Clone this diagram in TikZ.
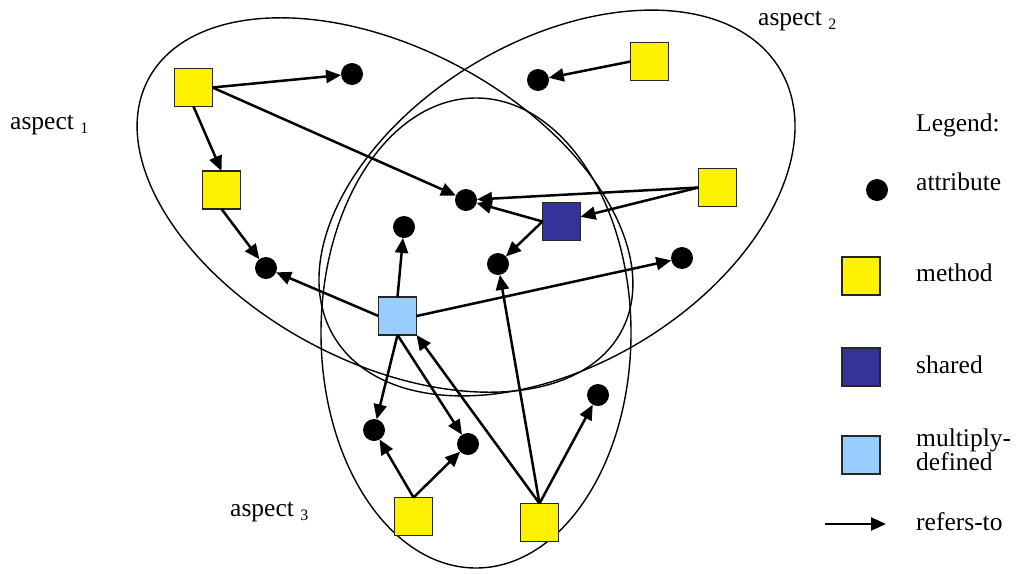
\documentclass[tikz,border=0pt]{standalone}
\usepackage{fontspec}
\setmainfont{Liberation Serif}
\usetikzlibrary{arrows.meta}
\definecolor{sharedc}{RGB}{51,51,153}
\definecolor{multic}{RGB}{153,204,255}
\begin{document}
\begin{tikzpicture}[x=1pt,y=-1pt,
  sq/.style={draw=black!85, line width=1.4pt, minimum size=38pt, inner sep=0pt, outer sep=0pt},
  meth/.style={sq, fill=yellow},
  shar/.style={sq, fill=sharedc},
  mult/.style={sq, fill=multic},
  attr/.style={circle, fill=black, minimum size=22pt, inner sep=0pt, outer sep=0pt},
  ref/.style={line width=2.5pt, -{Triangle[length=15pt,width=13pt]}},
  asp/.style={line width=1.4pt},
  lbl/.style={font=\fontsize{25.5}{29}\selectfont, inner sep=0pt, anchor=base west}
]
\newcommand{\sbs}[1]{{\fontsize{16}{16}\selectfont\raisebox{-4pt}{#1}}}
\useasboundingbox (0,0) rectangle (1017,573);
% aspects
\draw[asp, rotate around={-28:(385,205)}] (385,205) ellipse [x radius=268, y radius=157];
\draw[asp, rotate around={31:(557,203)}] (557,203) ellipse [x radius=260, y radius=162];
\draw[asp] (476,333) ellipse [x radius=155, y radius=235];
% labels
\node[lbl] (t1) at (10,129) {aspect \sbs{1}};
\node[lbl] (t2) at (758,25) {aspect \sbs{2}};
\node[lbl] (t3) at (230,516) {aspect \sbs{3}};
% nodes
\node[meth] (m1) at (193.5,87.5) {};
\node[attr] (a1) at (352,74) {};
\node[meth] (m2) at (221.5,190) {};
\node[attr] (a2) at (266,268) {};
\node[attr] (a3) at (466,200) {};
\node[shar] (s) at (561.5,221.5) {};
\node[meth] (m3) at (717.5,187.5) {};
\node[meth] (m4) at (649.5,61.5) {};
\node[attr] (a4) at (538,80) {};
\node[attr] (a5) at (404,227) {};
\node[mult] (L) at (397.5,316) {};
\node[attr] (a6) at (498,264) {};
\node[attr] (a7) at (682,258) {};
\node[attr] (a8) at (374,430) {};
\node[attr] (a9) at (468,444) {};
\node[attr] (a10) at (598,395) {};
\node[meth] (m5) at (413.5,516.5) {};
\node[meth] (m6) at (539.5,522.5) {};
% connectors
\draw[ref] (m1.east) -- (a1);
\draw[ref] (m1.east) -- (a3);
\draw[ref] (m1.south) -- (m2.north);
\draw[ref] (m2.south) -- (a2);
\draw[ref] (L.west) -- (a2);
\draw[ref] (L.north) -- (a5);
\draw[ref] (L.east) -- (a7);
\draw[ref] (L.south) -- (a8);
\draw[ref] (L.south) -- (a9);
\draw[ref] (m6.north) -- (L.south east);
\draw[ref] (m6.north) -- (a6);
\draw[ref] (m6.north) -- (a10);
\draw[ref] (m5.north) -- (a8);
\draw[ref] (m5.north) -- (a9);
\draw[ref] (s.west) -- (a3);
\draw[ref] (s.west) -- (a6);
\draw[ref] (m3.west) -- (a3);
\draw[ref] (m3.west) -- (s);
\draw[ref] (m4.west) -- (a4);
% legend
\node[lbl] (lg) at (916,131) {Legend:};
\node[attr] (la) at (877,190) {};
\node[lbl] (lat) at (916,190) {attribute};
\node[meth] (lm) at (861,276) {};
\node[lbl] (lmt) at (916,281) {method};
\node[shar] (ls) at (861,367) {};
\node[lbl] (lst) at (916,373) {shared};
\node[mult] (lmd) at (861,455) {};
\node[lbl] (lmdt) at (916,446) {multiply-};
\node[lbl] (lmdt2) at (916,470) {defined};
\coordinate (r0) at (825,524);
\coordinate (r1) at (886,524);
\draw[ref] (r0) -- (r1);
\node[lbl] (lrt) at (916,530) {refers-to};
\end{tikzpicture}
\end{document}
